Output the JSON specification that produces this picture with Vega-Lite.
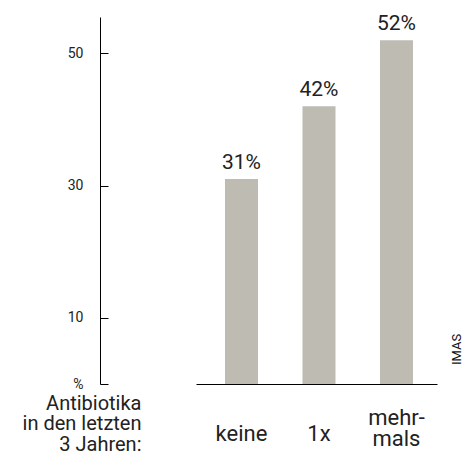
{
  "$schema": "https://vega.github.io/schema/vega-lite/v6.json",
  "autosize": "none",
  "width": 241,
  "height": 367,
  "padding": {"left": 196, "top": 17, "right": 25, "bottom": 79},
  "background": "white",
  "config": {"view": {"stroke": null}, "font": "Roboto"},
  "title": {"text": "IMAS", "orient": "right", "frame": "group", "anchor": "end", "angle": -90, "align": "left", "baseline": "alphabetic", "fontSize": 13, "fontWeight": "normal", "color": "#111", "offset": 11, "dx": 19},
  "data": {"values": [
    {"k": "keine", "v": 31, "label": "31%"},
    {"k": "1x", "v": 42, "label": "42%"},
    {"k": "mehrmals", "v": 52, "label": "52%"}
  ]},
  "encoding": {
    "x": {
      "field": "k", "type": "nominal", "sort": null,
      "scale": {"paddingInner": 0.574, "paddingOuter": 0.342, "align": 0.547},
      "axis": {
        "title": ["Antibiotika", "in den letzten", "3 Jahren:"],
        "titleX": -55, "titleY": 25, "titleAlign": "right", "titleBaseline": "alphabetic",
        "titleFontSize": 20, "titleFontWeight": "normal", "titleLineHeight": 20.5, "titleColor": "#222",
        "ticks": false, "tickSize": 0, "labelAngle": 0, "labelFontSize": 22,
        "labelBaseline": "alphabetic",
        "labelPadding": {"condition": {"test": "datum.value == 'mehrmals'", "value": 40}, "value": 56},
        "labelLineHeight": 21,
        "labelExpr": "datum.value == 'mehrmals' ? ['mehr-','mals'] : datum.label",
        "domainColor": "#000", "labelColor": "#222"
      }
    },
    "y": {
      "field": "v", "type": "quantitative",
      "scale": {"domain": [0, 55.5], "nice": false, "zero": true},
      "axis": {
        "values": [0, 10, 30, 50],
        "labelExpr": "datum.value == 0 ? '%' : datum.label",
        "offset": 96, "tickSize": -8, "labelPadding": 25,
        "domainColor": "#000", "tickColor": "#000",
        "labelFontSize": 14, "labelColor": "#222", "grid": false, "title": null
      }
    }
  },
  "layer": [
    {"mark": {"type": "bar", "color": "#bebbb3"}},
    {"mark": {"type": "text", "baseline": "alphabetic", "dy": -10, "fontSize": 21, "color": "#222"},
     "encoding": {"text": {"field": "label"}}}
  ]
}
